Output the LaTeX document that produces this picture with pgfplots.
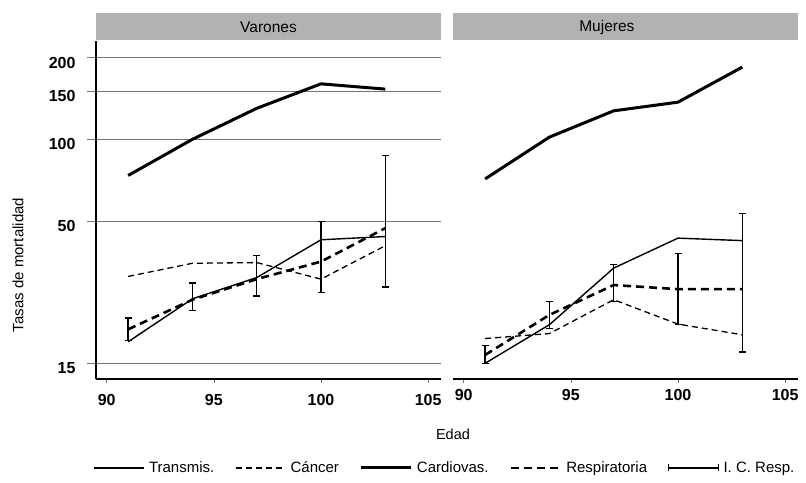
\documentclass[border=0pt]{standalone}
\usepackage{pgfplots}
\pgfplotsset{compat=1.18}
\usepackage{fontspec}
\setmainfont{Liberation Sans}
\definecolor{stripgray}{gray}{0.70}
\definecolor{gridgray}{gray}{0.45}
\pgfplotsset{
  stTrans/.style={black, line width=1.4pt, line join=round},
  stCanc/.style={black, line width=1.3pt, dash pattern=on 6pt off 4pt},
  stCard/.style={black, line width=3pt, line join=round},
  stResp/.style={black, line width=2.6pt, dash pattern=on 8pt off 5pt},
  stIC/.style={black, line width=1.4pt, mark=-, mark size=3.5pt, mark options={solid, line width=1.2pt}, unbounded coords=jump},
}
\begin{document}
\begin{tikzpicture}
\useasboundingbox (0,0) rectangle (806pt,482pt);
% ---------------- Varones ----------------
\begin{axis}[
  scale only axis, width=345pt, height=338pt,
  at={(96pt,103pt)}, anchor=south west,
  xmin=89.5, xmax=105.6, ymode=log, ymin=13.13, ymax=230,
  xtick={90,95,100,105},
  ytick={15,50,100,150,200},
  yticklabels={15,50,100,150,200},
  ymajorgrids, grid style={gridgray, line width=0.7pt},
  tick align=outside, major tick length=9pt,
  xtick style={gridgray, line width=0.7pt, /pgfplots/major tick length=4pt},
  ytick style={gridgray, line width=0.7pt},
  axis x line*=bottom, axis y line*=left,
  axis line style={black, line width=1.6pt},
  x axis line style={-}, y axis line style={-},
  xticklabel style={font=\fontsize{16}{18}\selectfont\bfseries, yshift=-3pt},
  yticklabel style={font=\fontsize{16}{18}\selectfont\bfseries, xshift=-8pt, yshift=-5pt},
  /pgf/number format/assume math mode=true,
  clip=false,
  legend columns=5,
  legend style={at={(axis description cs:1.0116,-0.2633)}, anchor=center,
    draw=none, fill=none, font=\fontsize{15}{17}\selectfont,
    /tikz/every even column/.append style={column sep=19pt},
    /tikz/every odd column/.append style={column sep=2pt}},
]
\fill[stripgray] ([yshift=1pt]rel axis cs:0,1) rectangle ([yshift=28pt]rel axis cs:1,1);
\node[font=\fontsize{15.5}{17}\selectfont] at ([yshift=14pt]rel axis cs:0.5,1) {Varones};
\addplot[stTrans, legend image code/.code={\draw[black, line width=1.4pt] (0pt,0pt) -- (50pt,0pt);}]
  coordinates {(91,18.0) (94,25.9) (97,31.0) (100,42.7) (103,43.9)};
\addlegendentry{Transmis.}
\addplot[stCanc, legend image code/.code={\draw[black, line width=1.3pt, dash pattern=on 6pt off 4pt] (0pt,0pt) -- (50pt,0pt);}]
  coordinates {(91,31.3) (94,35.0) (97,35.2) (100,30.6) (103,40.6)};
\addlegendentry{Cáncer}
\addplot[stCard, legend image code/.code={\draw[black, line width=3pt] (0pt,0pt) -- (50pt,0pt);}]
  coordinates {(91,73.6) (94,100) (97,130) (100,160) (103,153)};
\addlegendentry{Cardiovas.}
\addplot[stResp, legend image code/.code={\draw[black, line width=2.6pt, dash pattern=on 8pt off 5pt] (0pt,0pt) -- (50pt,0pt);}]
  coordinates {(91,20.0) (94,25.7) (97,30.6) (100,35.5) (103,47.1)};
\addlegendentry{Respiratoria}
\addplot[stIC, legend image code/.code={\draw[black,line width=1.4pt] (0pt,0pt) -- (50pt,0pt); \draw[black,line width=1.2pt] (0pt,-3.5pt) -- (0pt,3.5pt) (50pt,-3.5pt) -- (50pt,3.5pt);}]
  coordinates {(91,18.2) (91,22.0) (91,nan) (94,23.4) (94,29.6) (94,nan) (97,26.5) (97,37.4) (97,nan) (100,27.3) (100,49.8) (100,nan) (103,28.6) (103,87.2)};
\addlegendentry{I. C. Resp.}
\end{axis}
% ---------------- Mujeres ----------------
\begin{axis}[
  scale only axis, width=345pt, height=338pt,
  at={(453pt,103pt)}, anchor=south west,
  xmin=89.5, xmax=105.6, ymode=log, ymin=13.13, ymax=230,
  xtick={90,95,100,105},
  ytick={15,50,100,150,200},
  yticklabels={},
  ymajorgrids, grid style={gridgray, line width=0.7pt},
  tick align=outside, major tick length=4pt,
  xtick style={gridgray, line width=0.7pt},
  ytick style={draw=none},
  axis x line*=bottom, axis y line=none,
  axis line style={black, line width=1.6pt},
  x axis line style={-},
  xticklabel style={font=\fontsize{16}{18}\selectfont\bfseries, yshift=-3pt},
  /pgf/number format/assume math mode=true,
  clip=false,
]
\fill[stripgray] ([yshift=1pt]rel axis cs:0,1) rectangle ([yshift=28pt]rel axis cs:1,1);
\node[font=\fontsize{15.5}{17}\selectfont] at ([yshift=14pt]rel axis cs:0.446,1) {Mujeres};
\addplot[stTrans] coordinates {(91,15.0) (94,20.8) (97,33.6) (100,43.3) (103,42.4)};
\addplot[stCanc] coordinates {(91,18.5) (94,19.3) (97,25.7) (100,20.9) (103,19.1)};
\addplot[stCard] coordinates {(91,71.5) (94,101.9) (97,127.3) (100,137) (103,184.4)};
\addplot[stResp] coordinates {(91,16.1) (94,22.6) (97,29.1) (100,28.1) (103,28.1)};
\addplot[stIC] coordinates {(91,15.0) (91,17.4) (91,nan) (94,20.2) (94,25.4) (94,nan) (97,25.3) (97,34.7) (97,nan) (100,20.8) (100,38.1) (100,nan) (103,16.5) (103,53.5)};
\end{axis}
\node[rotate=90, font=\fontsize{15}{17}\selectfont] at (18pt,217pt) {Tasas de mortalidad};
\node[font=\fontsize{14.5}{16}\selectfont] at (453pt,48pt) {Edad};
\end{tikzpicture}
\end{document}
